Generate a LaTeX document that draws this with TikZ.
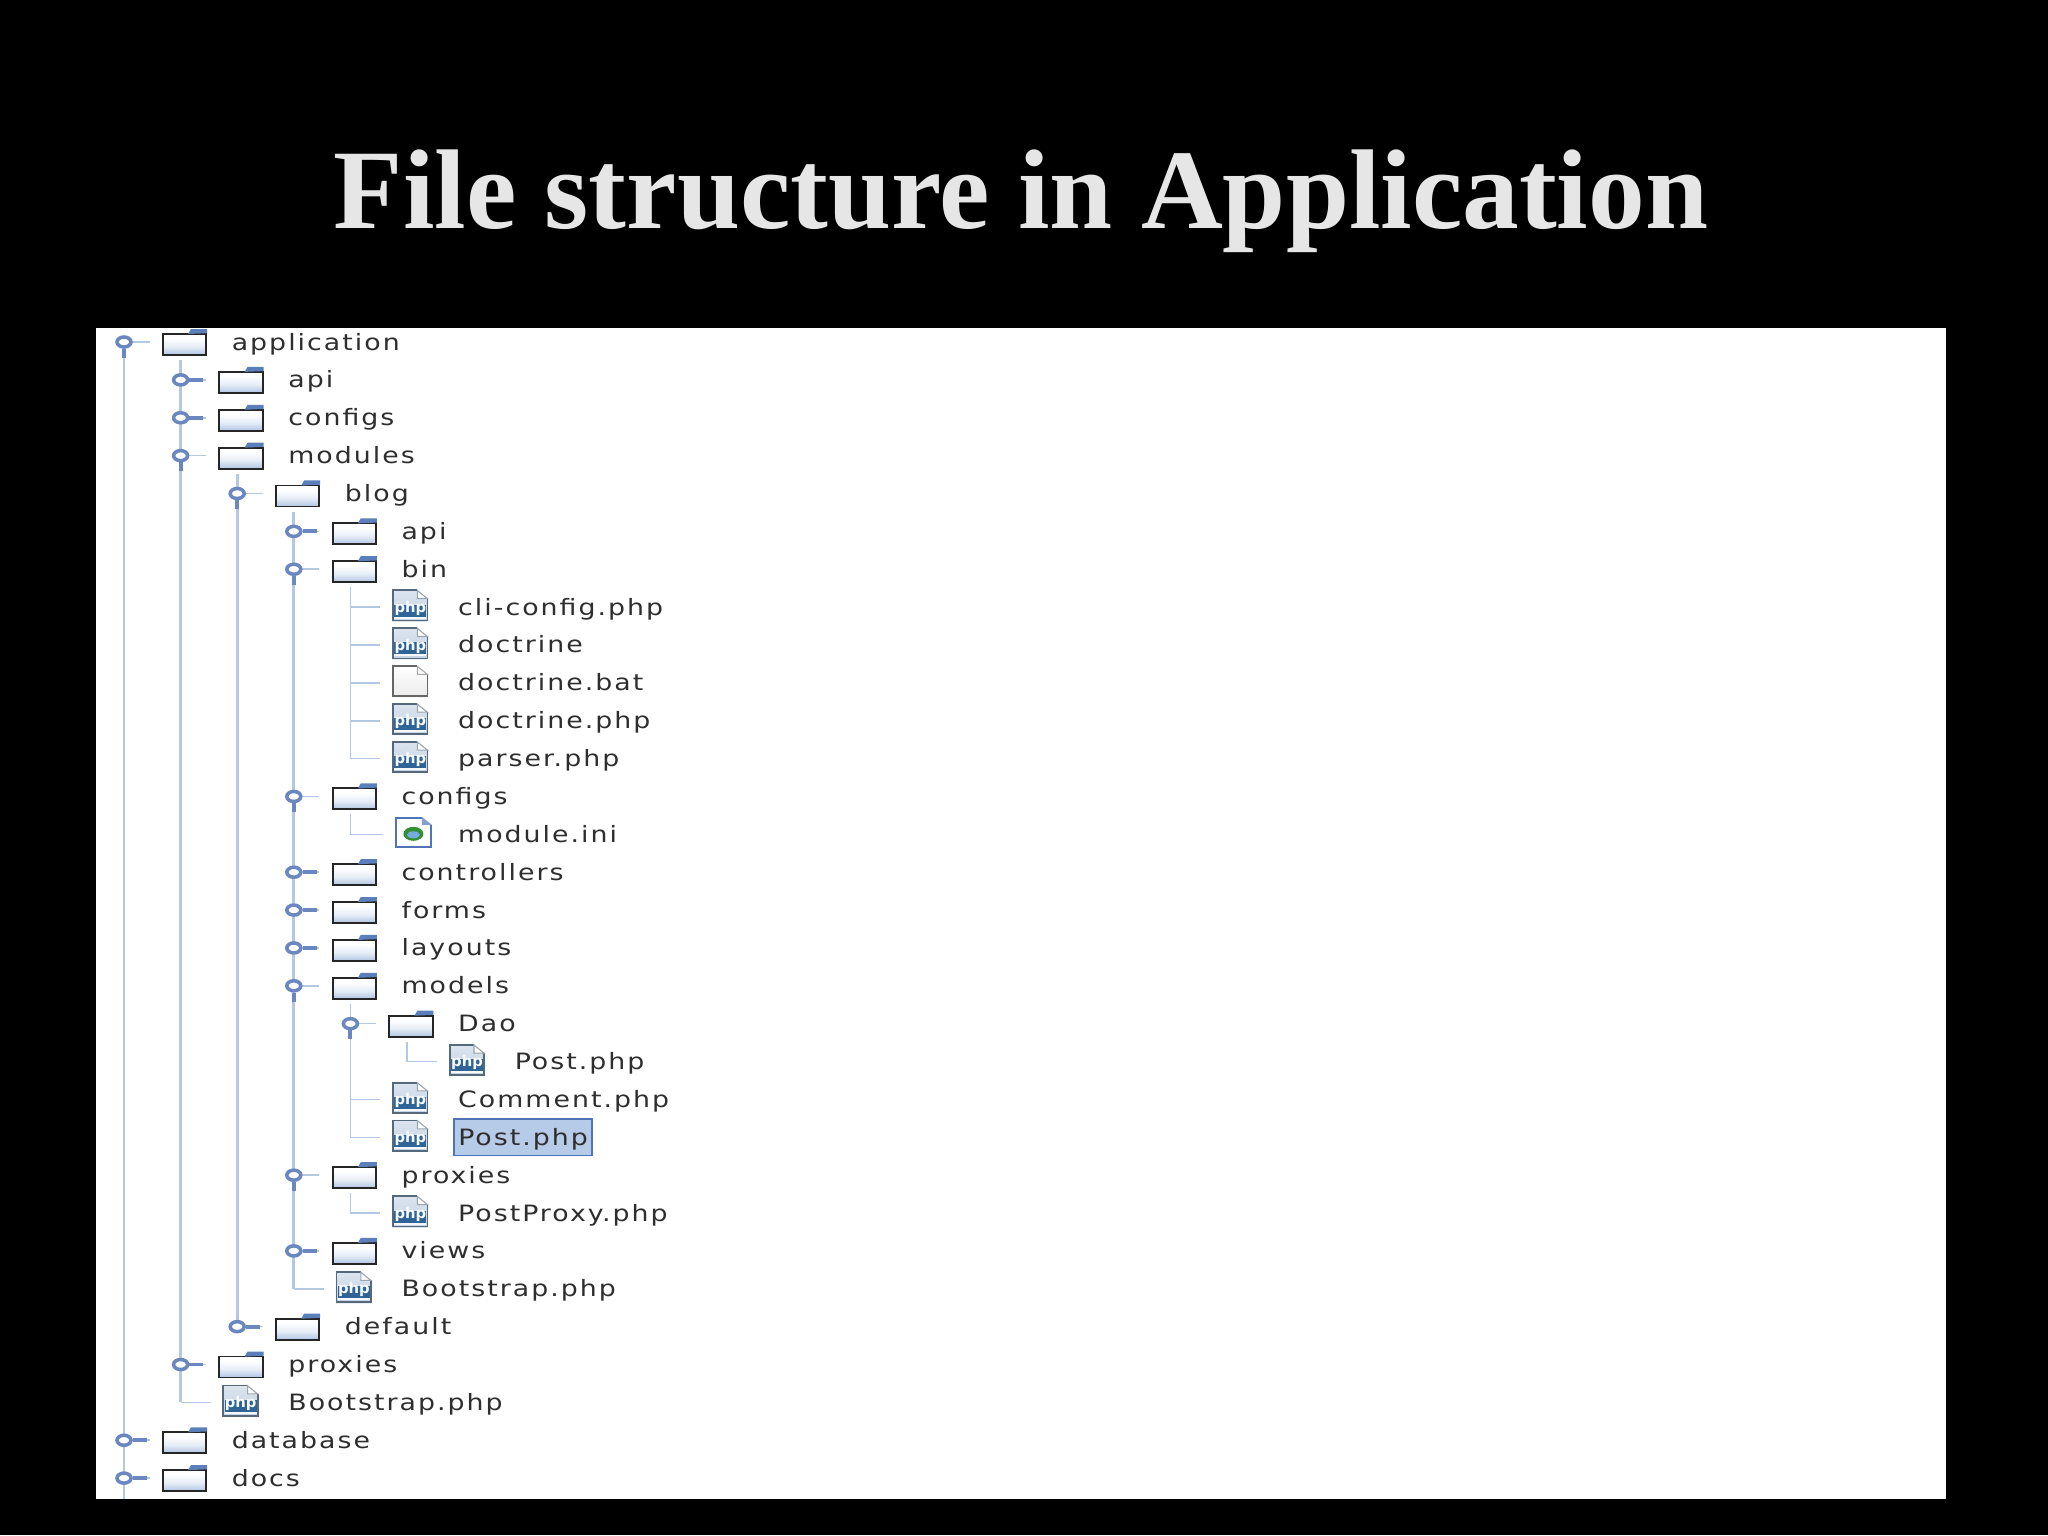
\documentclass[tikz,border=0pt]{standalone}
\usepackage{fontspec}
\usepackage{tikz}
\usetikzlibrary{shapes.geometric}
\setmainfont{Liberation Serif}
\newfontfamily\treefont[LetterSpace=9,FakeStretch=1.19]{DejaVu Sans}
\newfontfamily\iconfont{DejaVu Sans}
\definecolor{slidegray}{HTML}{E6E6E6}
\definecolor{handleblue}{HTML}{6B87C0}
\definecolor{linelight}{HTML}{B4C8E4}
\definecolor{foldblue}{HTML}{AFC5E3}
\definecolor{tabblue}{HTML}{5B7FBB}
\definecolor{pickfill}{HTML}{B5CBE8}
\definecolor{pickdraw}{HTML}{4F74B8}
\definecolor{phpband}{HTML}{2F6596}
\definecolor{phpbody}{HTML}{C4D3E4}
\definecolor{phpedge}{HTML}{56697C}

% row / level / handle / icon / text / text style
\newcommand{\treerows}{
  0/0/handleopen/foldericon/application/treetext,
  1/1/handleshut/foldericon/api/treetext,
  2/1/handleshut/foldericon/configs/treetext,
  3/1/handleopen/foldericon/modules/treetext,
  4/2/handleopen/foldericon/blog/treetext,
  5/3/handleshut/foldericon/api/treetext,
  6/3/handleopen/foldericon/bin/treetext,
  7/4/handlenone/phpicon/cli-config.php/treetext,
  8/4/handlenone/phpicon/doctrine/treetext,
  9/4/handlenone/baticon/doctrine.bat/treetext,
  10/4/handlenone/phpicon/doctrine.php/treetext,
  11/4/handlenone/phpicon/parser.php/treetext,
  12/3/handleopen/foldericon/configs/treetext,
  13/4/handlenone/iniicon/module.ini/treetext,
  14/3/handleshut/foldericon/controllers/treetext,
  15/3/handleshut/foldericon/forms/treetext,
  16/3/handleshut/foldericon/layouts/treetext,
  17/3/handleopen/foldericon/models/treetext,
  18/4/handleopen/foldericon/Dao/treetext,
  19/5/handlenone/phpicon/Post.php/treetext,
  20/4/handlenone/phpicon/Comment.php/treetext,
  21/4/handlenone/phpicon/Post.php/treepick,
  22/3/handleopen/foldericon/proxies/treetext,
  23/4/handlenone/phpicon/PostProxy.php/treetext,
  24/3/handleshut/foldericon/views/treetext,
  25/3/handlenone/phpicon/Bootstrap.php/treetext,
  26/2/handleshut/foldericon/default/treetext,
  27/1/handleshut/foldericon/proxies/treetext,
  28/1/handlenone/phpicon/Bootstrap.php/treetext,
  29/0/handleshut/foldericon/database/treetext,
  30/0/handleshut/foldericon/docs/treetext}

% icon drawings, origin on the tree line of the row
\newcommand{\shapefoldericon}{
  \begin{scope}[shift={(38,-13)}]
    \shade[top color=white,bottom color=foldblue,middle color=white!70!foldblue] (2,9) rectangle (43,26);
    \draw[black!85,line width=.55pt] (.8,5) rectangle (44.2,26);
    \fill[tabblue] (26,5) -- (29,0) -- (45,0) -- (45,4.2) -- cycle;
  \end{scope}}
\newcommand{\shapephpicon}{
  \begin{scope}[shift={(42,-17.5)}]
    \shade[top color=phpbody!60!white,bottom color=phpbody] (0,0) -- (25,0) -- (35,9) -- (35,32) -- (0,32) -- cycle;
    \fill[phpband] (2,15) rectangle (34,27);
    \fill[white!85!phpbody] (2,27) rectangle (34,29);
    \draw[phpedge,line width=.5pt] (25,.7) -- (.7,.7) -- (.7,31) -- (35.2,31) -- (35.2,9);
    \fill[white] (25,1) -- (25,9) -- (35,9) -- cycle;
    \draw[phpedge!60,line width=.3pt] (25,1) -- (25,9) -- (35,9) -- cycle;
  \end{scope}}
\newcommand{\shapebaticon}{
  \begin{scope}[shift={(42,-17.5)}]
    \shade[top color=white,bottom color=black!8] (0,0) -- (25,0) -- (35,9) -- (35,32) -- (0,32) -- cycle;
    \draw[black!60,line width=.5pt] (25,.7) -- (.7,.7) -- (.7,31) -- (35.2,31) -- (35.2,9);
    \draw[black!35,line width=.3pt] (25,1) -- (25,9) -- (35,9) -- cycle;
  \end{scope}}
\newcommand{\shapeiniicon}{
  \begin{scope}[shift={(44.5,-17.5)}]
    \fill[white] (0,0) rectangle (37,31);
    \draw[pickdraw,line width=.5pt] (27,.8) -- (.8,.8) -- (.8,30) -- (36,30) -- (36,8);
    \fill[pickdraw!70] (27,0) -- (27,8) -- (37,8) -- cycle;
    \fill[green!45!black!80] (18.5,17) ellipse (10 and 7);
    \fill[cyan!60!blue!55] (18.5,18) ellipse (6.5 and 3.5);
  \end{scope}}

\tikzset{
  title/.style={anchor=base,inner sep=0,text=slidegray,font=\fontsize{32.25}{36}\selectfont\bfseries},
  panel/.style={fill=white,inner sep=0,outer sep=0,minimum width=18.48cm,minimum height=11.71cm},
  treetext/.style={anchor=base west,inner sep=0,text=black!82,font=\fontsize{6.4}{8}\treefont},
  treepick/.style={treetext,fill=pickfill,draw=pickdraw,line width=.45pt,inner xsep=.04cm,inner ysep=.07cm,
    text height=.19cm,text depth=.03cm,xshift=-.04cm},
  mainline/.style={linelight,line width=.75pt,shorten <=.18cm},
  thinline/.style={linelight,line width=.5pt,shorten <=.18cm},
  branchline/.style={linelight,line width=.45pt},
  stubline/.style={handleblue,line width=1.1pt},
  handleopen/.style={ellipse,draw=handleblue,fill=white,line width=1pt,inner sep=0,minimum width=.14cm,minimum height=.1cm,
    append after command={(\tikzlastnode.south) edge[stubline] ++(0,9)}},
  handleshut/.style={ellipse,draw=handleblue,fill=white,line width=1pt,inner sep=0,minimum width=.14cm,minimum height=.1cm,
    append after command={(\tikzlastnode.east) edge[stubline] ++(14,0)}},
  handlenone/.style={shape=coordinate},
  icon/.style={rectangle,inner sep=0,outer sep=0},
  foldericon/.style={icon,minimum width=.45cm,minimum height=.27cm,yshift=-.005cm},
  fileicon/.style={icon,minimum width=.36cm,minimum height=.32cm,yshift=.015cm},
  phpicon/.style={fileicon,text=white!90!phpbody,font=\fontsize{4.2}{5}\iconfont\bfseries,
    execute at begin node={\raisebox{-1.9pt}[0pt][0pt]{php}}},
  baticon/.style={fileicon},
  iniicon/.style={icon,minimum width=.37cm,minimum height=.31cm,xshift=.03cm,yshift=.02cm}
}

\begin{document}
\begin{tikzpicture}[x=.01cm,y=-.01cm]
  \useasboundingbox (0,0) rectangle (2048,1535);
  \fill[black] (0,0) rectangle (2048,1535);
  \node[title] (heading) at (1021,228) {File structure in Application};
  \node[panel] (panel) at (1021,913.5) {};
  \foreach \rw/\lv/\hd/\ic/\tx/\st in \treerows
    \coordinate (r\rw) at ({124+56.6*\lv},{342+37.87*\rw});
  % tree lines go under the icons
  \draw[mainline,shorten <=0pt] (r0) -- (r0 |- panel.south);
  \draw[mainline] (r1 |- r0) -- (r28);
  \draw[mainline] (r4 |- r3) -- (r26);
  \draw[mainline] (r5 |- r4) -- (r25);
  \draw[thinline] (r7 |- r6) -- (r11);
  \draw[thinline] (r13 |- r12) -- (r13);
  \draw[thinline] (r18 |- r17) -- (r21);
  \draw[thinline] (r19 |- r18) -- (r19);
  \draw[thinline] (r23 |- r22) -- (r23);
  \foreach \rw/\lv/\hd/\ic/\tx/\st in \treerows {
    \begin{scope}[shift={(r\rw)}]
      \csname shape\ic\endcsname
    \end{scope}
    \node[\ic] (i\rw) at ([xshift=.6cm]r\rw) {};
    \draw[branchline,shorten >=.12cm] (r\rw) -- (r\rw -| i\rw.west);
    \node[\hd] (h\rw) at (r\rw) {};
    \node[\st] (t\rw) at ([xshift=1.07cm,yshift=-.08cm]r\rw) {\tx};
  }
\end{tikzpicture}
\end{document}
